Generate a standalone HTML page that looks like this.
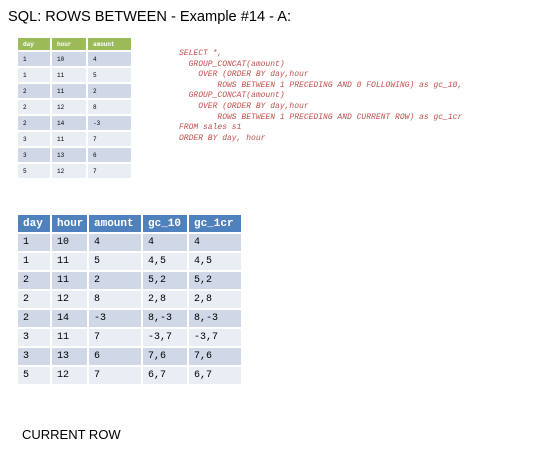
<!DOCTYPE html>
<html><head><meta charset="utf-8"><style>
body{margin:0;width:539px;height:465px;background:#fff;position:relative;font-family:"Liberation Sans",sans-serif;overflow:hidden}
.title{position:absolute;left:8px;top:9px;font-size:14.6px;color:#000}
table{position:absolute;border-collapse:collapse;font-family:"Liberation Mono",monospace}
td,th{border:2px solid #fff;text-align:left;padding:0 0 0 5px}
#t1{left:16px;top:36px;font-size:6px}
#t1 th{background:#9bbb59;color:#fff;height:12px}
#t1 td{height:14px}
#t2{left:16px;top:213px;font-size:10px}
#t2 th{background:#4f81bd;color:#fff;height:17px;font-size:11px}
#t2 td{height:17px}
tr.o td{background:#d0d8e8}
tr.e td{background:#e9edf4}
pre{position:absolute;left:179px;top:49px;margin:0;font-family:"Liberation Mono",monospace;font-style:italic;font-size:8px;line-height:10.6px;color:#c0504d}
.cr{position:absolute;left:22px;top:427px;font-size:13px}
</style></head><body>
<div class="title">SQL: ROWS BETWEEN - Example #14 - A:</div>
<table id="t1">
<colgroup><col style="width:34px"><col style="width:36px"><col style="width:45px"></colgroup>
<tr><th>day</th><th>hour</th><th>amount</th></tr>
<tr class="o"><td>1</td><td>10</td><td>4</td></tr>
<tr class="e"><td>1</td><td>11</td><td>5</td></tr>
<tr class="o"><td>2</td><td>11</td><td>2</td></tr>
<tr class="e"><td>2</td><td>12</td><td>8</td></tr>
<tr class="o"><td>2</td><td>14</td><td>-3</td></tr>
<tr class="e"><td>3</td><td>11</td><td>7</td></tr>
<tr class="o"><td>3</td><td>13</td><td>6</td></tr>
<tr class="e"><td>5</td><td>12</td><td>7</td></tr>
</table>
<pre>SELECT *,
  GROUP_CONCAT(amount)
    OVER (ORDER BY day,hour
        ROWS BETWEEN 1 PRECEDING AND 0 FOLLOWING) as gc_10,
  GROUP_CONCAT(amount)
    OVER (ORDER BY day,hour
        ROWS BETWEEN 1 PRECEDING AND CURRENT ROW) as gc_1cr
FROM sales s1
ORDER BY day, hour</pre>
<table id="t2">
<colgroup><col style="width:34px"><col style="width:37px"><col style="width:54px"><col style="width:46px"><col style="width:54px"></colgroup>
<tr><th>day</th><th>hour</th><th>amount</th><th>gc_10</th><th>gc_1cr</th></tr>
<tr class="o"><td>1</td><td>10</td><td>4</td><td>4</td><td>4</td></tr>
<tr class="e"><td>1</td><td>11</td><td>5</td><td>4,5</td><td>4,5</td></tr>
<tr class="o"><td>2</td><td>11</td><td>2</td><td>5,2</td><td>5,2</td></tr>
<tr class="e"><td>2</td><td>12</td><td>8</td><td>2,8</td><td>2,8</td></tr>
<tr class="o"><td>2</td><td>14</td><td>-3</td><td>8,-3</td><td>8,-3</td></tr>
<tr class="e"><td>3</td><td>11</td><td>7</td><td>-3,7</td><td>-3,7</td></tr>
<tr class="o"><td>3</td><td>13</td><td>6</td><td>7,6</td><td>7,6</td></tr>
<tr class="e"><td>5</td><td>12</td><td>7</td><td>6,7</td><td>6,7</td></tr>
</table>
<div class="cr">CURRENT ROW</div>
</body></html>
